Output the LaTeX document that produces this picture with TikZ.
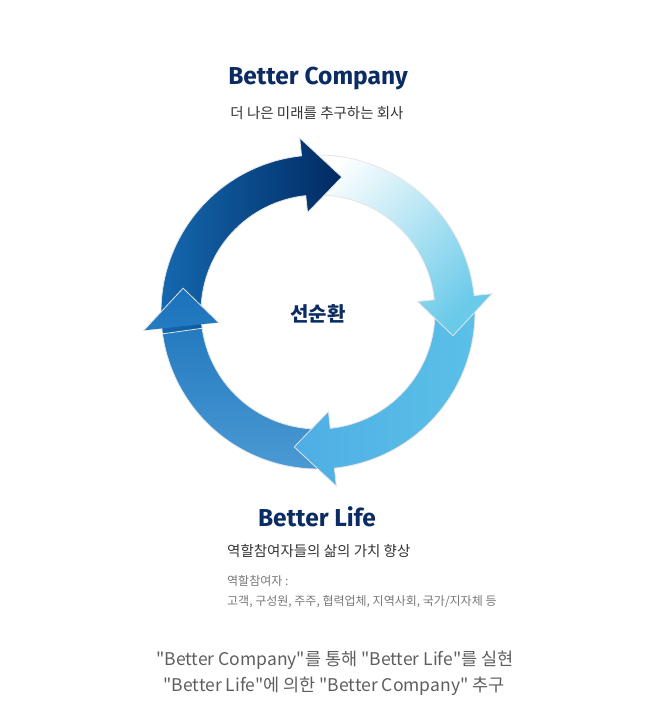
\documentclass[tikz,border=0pt]{standalone}
\usepackage{fontspec}
\setmainfont{Noto Sans CJK KR}
\newfontfamily\headfont{Fira Sans}
\definecolor{navy}{HTML}{0B2C62}
\definecolor{bodygray}{HTML}{333333}
\definecolor{notegray}{HTML}{777777}
\definecolor{footgray}{HTML}{5E5E5E}
\definecolor{deepblue}{HTML}{002A62}
\definecolor{midblue}{HTML}{156AB2}
\definecolor{skyblue}{HTML}{6ACAE9}
\definecolor{lightblue}{HTML}{5BC1E8}
\definecolor{paleblue}{HTML}{4FAEE4}
\definecolor{royalblue}{HTML}{1A72BB}
\definecolor{softblue}{HTML}{4C9BD4}
\newcommand\qq{\textquotedbl}
% ring arrow: start angle, head base angle, tip angle
\newcommand\ringarrow[3]{(#1:157) arc[start angle=#1, end angle=#2, radius=157] -- (#2:175) -- (#3:137) -- (#2:100) -- (#2:117) arc[start angle=#2, end angle=#1, radius=117] -- cycle}
\begin{document}
\begin{tikzpicture}[x=1pt,y=1pt,
  rim/.style={draw=black!10, line width=.8pt},
  headline/.style={text=navy, font=\headfont\bfseries\fontsize{24.5}{28}\selectfont, inner sep=0},
  subline/.style={text=bodygray, font=\fontsize{14.5}{17}\selectfont, inner sep=0},
  note/.style={text=notegray, font=\fontsize{12}{14}\selectfont, inner sep=0, anchor=west},
  foot/.style={text=footgray, font=\fontsize{17.5}{20}\selectfont, inner sep=0}]
\useasboundingbox (0,0) rectangle (658,723);
\begin{scope}[shift={(318,411)}]
\shade[rim, top color=royalblue, bottom color=softblue] \ringarrow{-82}{-174}{-190};
\shade[rim, left color=paleblue, right color=lightblue] \ringarrow{8}{-84}{-100};
\shade[rim, top color=white, bottom color=skyblue, shading angle=45] \ringarrow{98}{6}{-10};
\shade[rim, left color=midblue, right color=deepblue] \ringarrow{188}{96}{80};
% head of the left arrow goes back on top
\begin{scope}
\clip (-174:175) -- (-190:137) -- (-174:100) -- cycle;
\shade[top color=royalblue, bottom color=softblue] \ringarrow{-82}{-174}{-190};
\end{scope}
\draw[rim] (-174:175) -- (-190:137) -- (-174:100);
\node[text=navy, font=\bfseries\fontsize{20}{22}\selectfont] (cycle) at (0,-2) {선순환};
\end{scope}

\node[headline] (company) at (318,644) {Better Company};
\node[subline] (companysub) at (317,610) {더 나은 미래를 추구하는 회사};
\node[headline] (life) at (317,206) {Better Life};
\node[subline, anchor=west] (lifesub) at (227,172) {역할참여자들의 삶의 가치 향상};
\node[note] (notehead) at (227,142) {역할참여자 :};
\node[note] (notelist) at (227,121) {고객, 구성원, 주주, 협력업체, 지역사회, 국가/지자체 등};
\node[foot] (footone) at (335,63) {\qq Better Company\qq 를 통해 \qq Better Life\qq 를 실현};
\node[foot] (foottwo) at (334,37) {\qq Better Life\qq 에 의한 \qq Better Company\qq{} 추구};
\end{tikzpicture}
\end{document}
